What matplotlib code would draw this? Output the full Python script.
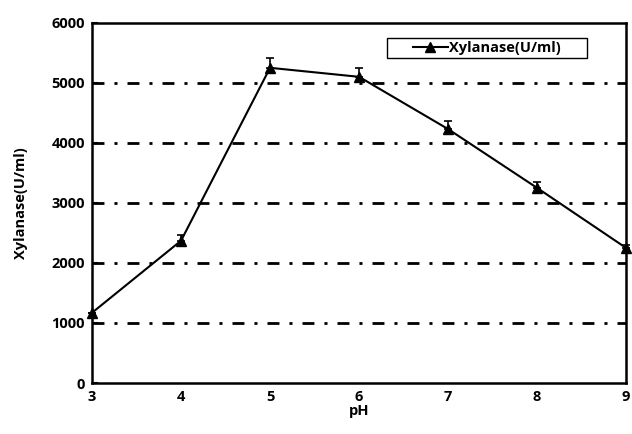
import matplotlib.pyplot as plt
from matplotlib.lines import Line2D
from matplotlib.patches import Rectangle

plt.rcParams['font.family'] = ['Open Sans', 'DejaVu Sans']
plt.rcParams['font.weight'] = 'bold'

ph = [3, 4, 5, 6, 7, 8, 9]
xylanase = [1170, 2370, 5250, 5100, 4230, 3250, 2250]
err = [0, 100, 170, 150, 130, 100, 50]

fig = plt.figure(figsize=(6.32, 4.34), dpi=100)
ax = fig.add_axes([0.1456, 0.1175, 0.845, 0.83])

# dash-dot grid
for y in [1000, 2000, 3000, 4000, 5000]:
    ax.axhline(y, color='black', lw=2, dashes=(4.3, 3.6, 1.1, 3.6), zorder=1)

ax.errorbar(ph, xylanase, yerr=[[0] * len(err), err], color='black', lw=1.5,
            marker='^', ms=6.5, capsize=3, elinewidth=1.2, capthick=1.2,
            zorder=3, clip_on=False)

ax.set_xlim(3, 9)
ax.set_ylim(0, 6000)
ax.set_xticks(ph)
ax.set_yticks(range(0, 6001, 1000))
ax.tick_params(axis='y', direction='in', length=4, width=1.5, labelsize=10.5, pad=5)
ax.tick_params(axis='x', length=0, labelsize=10.5, pad=5)
for s in ax.spines.values():
    s.set_linewidth(1.8)

ax.set_xlabel('pH', fontsize=10.5, fontweight='bold', labelpad=0)
ax.set_ylabel('Xylanase(U/ml)', fontsize=10.5, fontweight='bold', labelpad=17)

# legend box drawn by hand (wide padding like the original)
ax.add_patch(Rectangle((0.552, 0.903), 0.375, 0.055, transform=ax.transAxes,
                       fill=True, facecolor='white', edgecolor='black', lw=1.0, zorder=4))
handle = Line2D([], [], color='black', lw=1.5, marker='^', ms=6.5)
leg = ax.legend([handle], ['Xylanase(U/ml)'], loc='center left',
                bbox_to_anchor=(0.601, 0.930), frameon=False, fontsize=10.5,
                handlelength=2.4, borderpad=0, handletextpad=0.05, borderaxespad=0)
leg.set_zorder(5)

fig.savefig('out.png', dpi=100)
